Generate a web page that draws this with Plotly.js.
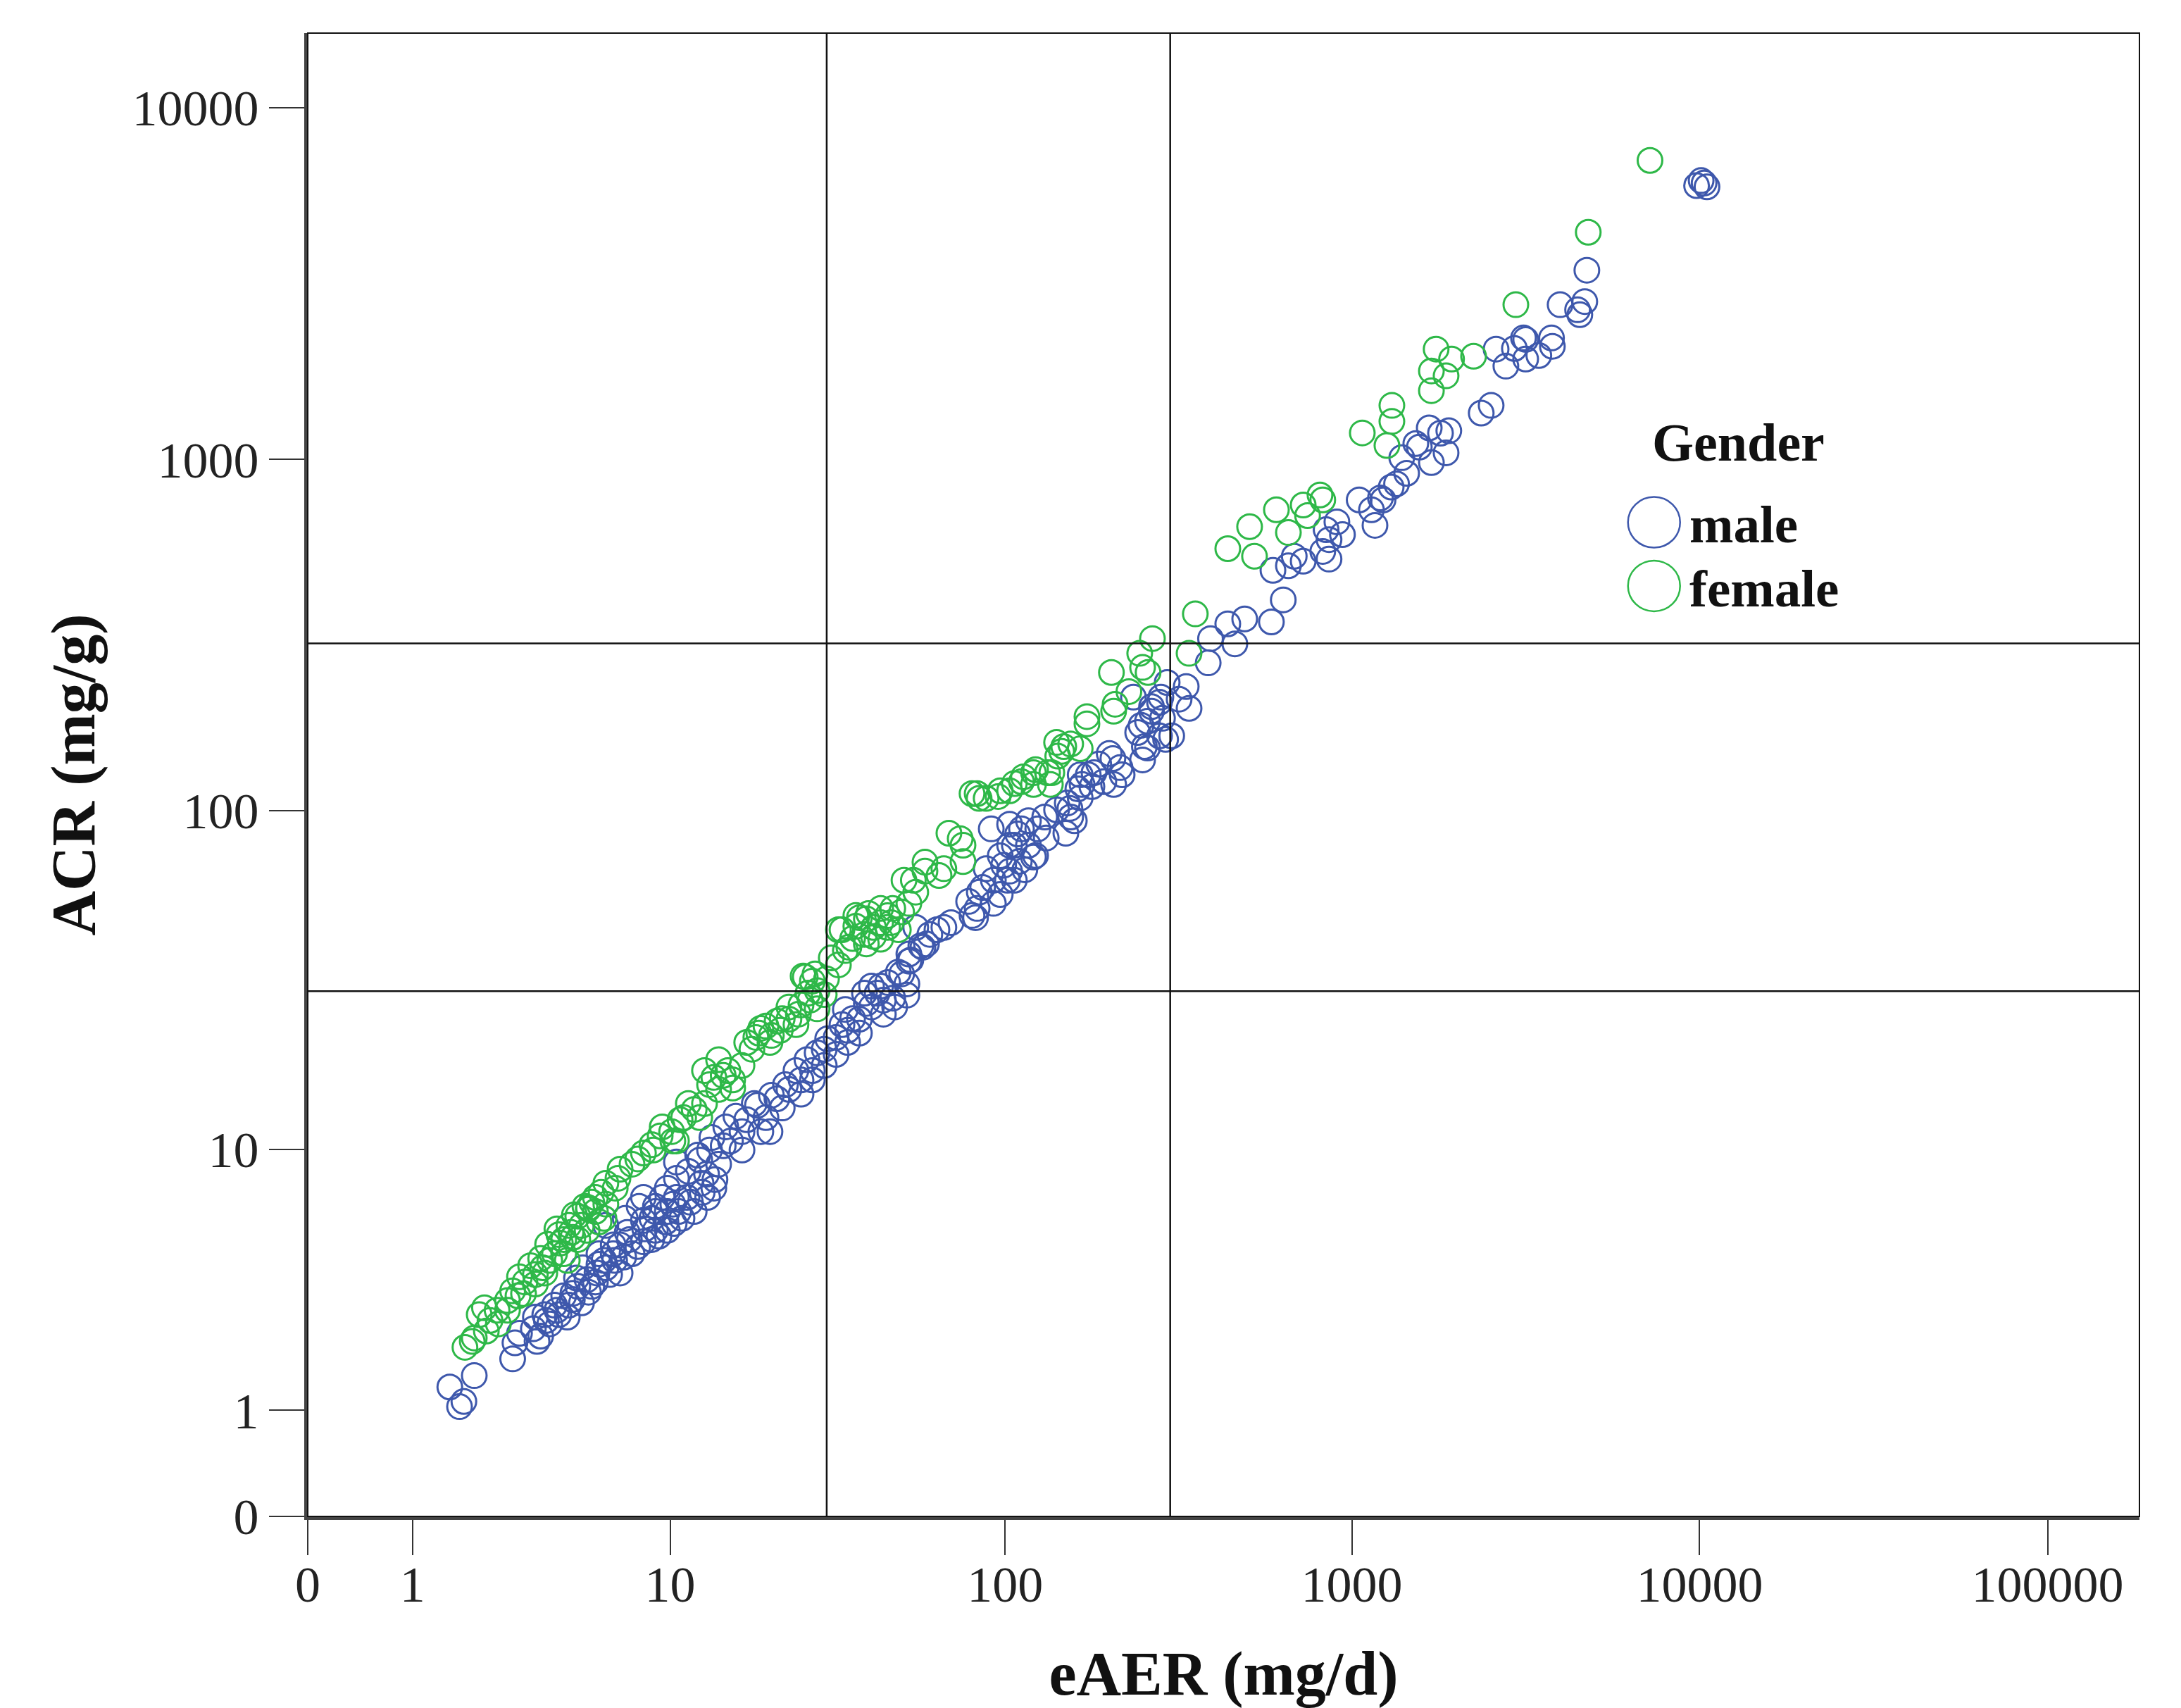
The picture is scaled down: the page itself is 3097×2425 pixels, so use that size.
<!DOCTYPE html>
<html>
<head>
<meta charset="utf-8">
<script src="https://cdn.plot.ly/plotly-3.0.1.min.js"></script>
<style>
html,body{margin:0;padding:0;background:#ffffff;}
#chart{width:3097px;height:2425px;}
</style>
</head>
<body>
<div id="chart"></div>
<script>
// ---- data (eAER in mg/d, ACR in mg/g) ----
const maleEAER = [1.56,1.73,1.81,2.01,2.88,2.94,3.06,3.67,3.96,4.27,4.12,4.63,4.78,4.97,5.35,5.17,5.78,6.10,6.55,6.90,6.90,7.55,8.22,8.22,8.98,9.80,9.80,10.64,11.58,12.6,13.69,8.98,7.96,10.3,6.55,5.55,3.80,3.45,4.44,6.19,7.28,9.44,3.51,5.87,10.47,8.74,
7.17,8.22,9.80,11.41,13.0,14.16,15.4,16.7,19.05,20.3,18.2,21.3,23.15,25.16,27.2,29.5,29.5,32.0,34.6,37.49,40.7,44.1,51.7,6.19,8.98,10.47,12.38,13.28,14.63,16.7,19.74,22.1,25.16,27.2,32.0,34.6,37.49,44.1,47.6,51.7,40.7,
34.07,38.8,43.3,47.0,49.92,53.1,56.8,60.34,66.32,54.88,82.9,84.1,88.05,92.4,96.75,103,106.3,109.9,116.8,120.8,124.3,111.5,130.2,140.9,149.9,154.8,164.9,178.3,193,205,218,164.9,103,91.1,96.75,101.5,92.4,80.1,
235,258,258,249.7,279.4,303,340,333.6,386,392,439.6,491.8,460.7,587,635,657,724.7,825,843.5,906,1139,1209,206,180.8,167,154,279.4,318.3,294,241.7,265,252.7,
4741,3972,4676,4525,3773,3162,3162,2600,2774,2516,2356,1901,1670,1867,1564,1694,1438,1345,1230,1050,1166,940,860,860,1392,1528,1799,1298,2935,3450,
9800,10100,10500,10300,4459,3752,3117,593,683,
3.56,3.85,4.20,4.57,4.76,5.12,4.92,5.41,5.71,5.87,6.37,6.62,7.09,7.40,7.88,8.30,8.75,9.21,9.70,10.2,10.9,11.3,11.9,12.5,13.1,13.8,
10.47,12.2,13.5,14.9,16.0,17.26,18.6,20.5,22.6,24.3,26.2,28.1,30.2,33.3,35.8,39.3,42.3,45.4,48.8,52.4,57.6,63.3,69.6,
103,108.7,114,122.5,106.3,99,116.8,131.5,151.3,162.4,174,186.6,200,215,158.6,247.3,265,282,291,285,78.3,86,82,52.4,59];
const maleACR = [1.33,1.05,1.12,1.51,1.80,2.11,2.31,2.25,2.52,2.74,2.98,2.98,3.30,3.50,3.70,4.08,3.91,4.33,4.57,3.91,4.90,4.57,5.02,5.92,5.49,5.49,6.34,6.34,6.80,7.32,7.55,6.34,6.59,5.79,4.90,3.50,2.74,2.41,3.23,4.08,5.40,7.05,2.68,4.57,7.05,5.11,
6.02,7.05,7.55,8.55,8.37,9.0,10.64,11.37,11.37,11.37,13.87,14.34,15.3,16.35,16.35,18.06,20.2,21.9,23.0,24.8,26.95,28.23,29.2,5.70,6.59,8.12,9.28,9.97,10.28,9.97,12.56,13.44,14.8,17.44,19.5,21.17,22.56,25.66,26.95,31.5,31.04,
26.5,29.6,31.04,28.6,33.7,37.0,40.7,43.9,46.0,46.0,52.2,58.2,68.0,54.0,57.3,66.9,79.46,71.4,79.46,73.5,88.5,88.5,95.7,100.4,86.0,95.7,108.6,117,120.9,140.8,126.5,126.5,91.3,88.5,74.1,63.0,63.0,49.8,
210.8,180,150.9,139.5,163.4,163.4,195.8,226,264,309.5,341,352,299,345.2,399,499,514,548,632,665,719.8,778,118.7,128.3,118.7,101.3,203.9,208,232,167.1,198,152.3,
3449,2753,2810,2580,2096,2194,1930,2059,1842,1425,1355,1207,1230,1045,1085,980,914,853,768,768,650,612,592,521,1012,1110,1188,835,2068,1975,
6000,6200,5950,6100,2663,2215,2215,484,531,
2.14,2.60,2.85,2.68,3.13,3.04,3.75,3.33,3.63,4.20,3.86,4.33,4.45,5.11,4.84,5.55,6.02,5.25,5.86,6.70,6.02,7.05,6.34,7.83,7.05,8.04,
9.14,9.61,10.9,11.76,12.68,12.37,13.7,14.7,15.82,17.44,18.8,19.7,21.7,23.9,24.9,27.6,29.6,31.8,34.1,36.7,40.3,45.3,47.5,
79.5,85.6,67.5,74.2,63.0,69.6,93.4,83.3,105,115.3,126.5,135.7,145.5,132.6,93.4,175.2,192.2,210.8,159.7,183.4,54.7,60,49.1,38.5,41.2];

const femaleEAER = [1.83,2.01,2.11,2.22,2.53,2.75,2.88,3.06,3.17,3.51,
3.37,3.67,3.89,4.12,4.27,4.63,4.97,5.26,5.55,5.97,
4.78,5.35,4.44,3.80,6.10,6.65,4.97,5.71,4.44,3.96,
5.4,6.79,8.22,9.30,9.44,11.41,12.81,13.69,14.63,15.64,
18.78,19.74,21.33,23.15,25.16,26.8,27.2,25.52,6.19,7.55,
8.84,10.11,11.03,12.38,13.28,14.16,15.12,16.7,17.9,18.4,
20.3,21.8,23.15,24.7,26.4,28.11,29.96,25.9,27.7,34.07,
35.8,37.49,39.9,43.3,45.38,41.26,38.8,47.0,50.7,54.88,
58.4,64.2,68.6,75.4,75.4,82.9,88.05,95.4,103,111.5,
122.5,132.7,145.8,154.8,164.9,172.5,206,142,135.2,120.8,
203,249.7,245,266.6,340,354.4,439.6,508,524.8,606.8,
657,724.7,810,2963,1748,1936,1694,1867,2240,1694,
1304,1304,1072,1262,825,746,7200,4785,32.5,36.6,
39.3,30.95,43.3,
4.32,4.71,4.84,5.12,5.41,5.71,5.87,6.19,4.57,4.20,3.73,3.51,3.21,3.02,2.75,2.50,2.34,2.26,1.97,6.90,7.88,8.75,10.47,
12.81,14.16,15.64,17.26,19.05,20.5,22.1,24.3,28.1,29.5,32.5,34.9,41.26,45.38,48.8,36.6,10.75,11.9,10.2,
74,58.4,66.3,54,52.4,80.1,84,96.75,106.3,120.8,136.5,147.8,140.9,113,172.5,208,228,259,33.3,43.3,46.5,39.3,49.9];
const femaleACR = [2.02,2.21,2.74,2.91,2.52,3.10,3.37,3.79,3.29,3.57,
4.15,4.40,4.92,4.57,5.31,5.70,6.12,6.59,6.80,7.32,
5.20,5.49,4.57,3.91,6.02,7.55,5.11,6.34,5.11,4.33,
6.45,8.12,9.76,11.03,11.76,13.87,13.87,16.63,16.87,16.35,
22.56,23.66,24.49,26.95,27.33,28.23,32.1,33.2,7.83,9.0,
9.97,11.37,12.56,12.56,15.82,15.3,17.44,18.06,20.2,21.9,
21.17,23.0,24.8,25.66,29.6,30.1,32.6,33.0,33.7,39.4,
42.7,49.1,50.5,52.2,46.0,46.0,43.9,52.2,63.0,58.2,
66.9,65.0,86.0,79.46,71.3,111.7,108.3,109.6,113.8,120.9,
130.8,128.3,147.6,154.9,150.2,176.9,192.2,143,118.7,118.7,
247.8,256.2,281,309.5,281,363.9,558,644.5,531,719.8,
620,742.4,792.9,2753,2059,1930,1785,1729,1966,1569,
1425,1283,1190,1096,768,693,7070,4420,45.3,46.4,
41.2,37.5,47.5,
4.97,5.40,6.18,5.70,6.52,7.05,5.86,6.70,4.33,5.55,4.08,3.86,3.63,3.23,2.85,2.85,2.60,2.36,2.14,8.68,9.35,10.36,10.64,
17.44,18.8,15.45,21.17,23.31,22.2,24.9,23.9,26.6,29.3,35.8,40.3,43.3,49.79,45.3,49.8,12.37,13.3,10.64,
83,71,68,63,54,111.7,108.3,113.8,119.3,128.3,128.3,152.3,156.5,124.8,185.5,201.1,218.6,247.8,45.3,42.5,47.5,48.7,51.0];

const xTickValues = [0, 1, 10, 100, 1000, 10000, 100000];
const yTickValues = [0, 1, 10, 100, 1000, 10000];
const cutoffs = [30, 300];
const seriesNames = ['male', 'female'];
const seriesColors = ['#3E58AC', '#2EB848'];
const legendTitle = 'Gender';
const xTitle = 'eAER (mg/d)';
const yTitle = 'ACR (mg/g)';

// SPSS "safe log" scale: position = log10(value + 1), drawn on a log axis
const safe = v => v + 1;

const FONT = '"Liberation Serif", "Times New Roman", serif';

const traces = [
  {x: maleEAER.map(safe), y: maleACR.map(safe), name: seriesNames[0]},
  {x: femaleEAER.map(safe), y: femaleACR.map(safe), name: seriesNames[1]}
].map((t, i) => Object.assign(t, {
  type: 'scatter', mode: 'markers', hoverinfo: 'skip',
  marker: {symbol: 'circle-open', size: 35, color: seriesColors[i], line: {width: 3, color: seriesColors[i]}}
}));

const shapes = [];
// plot frame
shapes.push({type: 'rect', xref: 'paper', yref: 'paper', x0: 0, x1: 1, y0: 0, y1: 1,
  line: {color: '#111', width: 2}, layer: 'above'});
// reference lines
cutoffs.forEach(c => {
  shapes.push({type: 'line', xref: 'x', yref: 'paper', x0: safe(c), x1: safe(c), y0: 0, y1: 1,
    line: {color: '#111', width: 2.5}, layer: 'above'});
  shapes.push({type: 'line', xref: 'paper', yref: 'y', x0: 0, x1: 1, y0: safe(c), y1: safe(c),
    line: {color: '#111', width: 2.5}, layer: 'above'});
});
// legend symbols
const legX = 0.735, legY = [0.6702, 0.6273];
seriesNames.forEach((n, i) => {
  shapes.push({type: 'circle', xref: 'paper', yref: 'paper', xsizemode: 'pixel', ysizemode: 'pixel',
    xanchor: legX, yanchor: legY[i], x0: -37, x1: 37, y0: -36, y1: 36,
    line: {color: seriesColors[i], width: 2.5}, layer: 'above'});
});

const annotations = [
  {xref: 'paper', yref: 'paper', x: 0.7811, y: 0.7241, xanchor: 'center', yanchor: 'middle', showarrow: false,
   text: '<b>' + legendTitle + '</b>', font: {family: FONT, size: 76, color: '#111'}}
];
seriesNames.forEach((n, i) => {
  annotations.push({xref: 'paper', yref: 'paper', x: 0.7536, y: legY[i] - 0.0015, xanchor: 'left', yanchor: 'middle',
    showarrow: false, text: '<b>' + n + '</b>', font: {family: FONT, size: 75, color: '#111'}});
});

const axisCommon = {
  type: 'log', tickmode: 'array', ticks: 'outside', ticklen: 50, tickwidth: 2, tickcolor: '#333',
  showline: true, linewidth: 5, linecolor: '#444', showgrid: false, zeroline: false,
  tickfont: {family: FONT, size: 72, color: '#222'}
};

const layout = {
  width: 3097, height: 2425,
  margin: {l: 436.5, r: 59, t: 47, b: 272, pad: 0},
  paper_bgcolor: '#ffffff', plot_bgcolor: '#ffffff',
  showlegend: false,
  xaxis: Object.assign({}, axisCommon, {
    range: [0, 5.264], ticklabelstandoff: -20,
    tickvals: xTickValues.map(safe), ticktext: xTickValues.map(String),
    title: {text: '<b>' + xTitle + '</b>', font: {family: FONT, size: 88, color: '#111'}, standoff: 75}
  }),
  yaxis: Object.assign({}, axisCommon, {
    range: [0, 4.211],
    tickvals: yTickValues.map(safe), ticktext: yTickValues.map(String),
    title: {text: '<b>' + yTitle + '</b>', font: {family: FONT, size: 88, color: '#111'}, standoff: 25}
  }),
  shapes: shapes,
  annotations: annotations
};

Plotly.newPlot('chart', traces, layout, {staticPlot: true, displayModeBar: false});
</script>
</body>
</html>
